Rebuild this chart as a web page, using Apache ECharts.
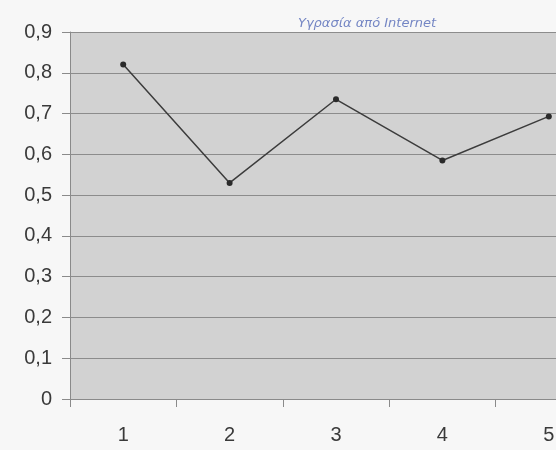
<!DOCTYPE html>
<html>
<head>
<meta charset="utf-8">
<script src="https://cdn.jsdelivr.net/npm/echarts@6/dist/echarts.min.js"></script>
<style>html,body{margin:0;padding:0;background:#f7f7f7;}#c{width:556px;height:450px;}</style>
</head>
<body>
<div id="c"></div>
<script>
const categories = ['1', '2', '3', '4', '5'];
const values = [0.82, 0.53, 0.735, 0.585, 0.693];
const titleText = 'Υγρασία από Internet';

const chart = echarts.init(document.getElementById('c'));
chart.setOption({
  backgroundColor: '#f7f7f7',
  animation: false,
  title: {
    text: titleText,
    left: 362, top: 12, textAlign: 'center',
    textStyle: { color: '#7486c4', fontSize: 13, fontWeight: 'normal', fontFamily: 'DejaVu Sans', fontStyle: 'italic' }
  },
  grid: { left: 70, top: 32, right: -46, bottom: 51, show: true, backgroundColor: '#d2d2d2', borderWidth: 0, containLabel: false, outerBoundsMode: 'none' },
  xAxis: {
    type: 'category', data: categories, boundaryGap: true,
    axisLine: { lineStyle: { color: '#8a8a8a', width: 1 } },
    axisTick: { show: true, length: 8, lineStyle: { color: '#8a8a8a' } },
    axisLabel: { color: '#3a3a3a', fontSize: 20, fontFamily: 'Liberation Sans', margin: 26 }
  },
  yAxis: {
    type: 'value', min: 0, max: 0.9, interval: 0.1,
    axisLine: { show: true, lineStyle: { color: '#8a8a8a', width: 1 } },
    axisTick: { show: true, length: 8, lineStyle: { color: '#8a8a8a' } },
    splitLine: { show: true, lineStyle: { color: '#8c8c8c', width: 1 } },
    axisLabel: {
      color: '#3a3a3a', fontSize: 20, fontFamily: 'Liberation Sans', margin: 18,
      formatter: v => (Math.round(v * 10) / 10).toString().replace('.', ',')
    }
  },
  series: [{
    type: 'line', data: values,
    symbol: 'circle', symbolSize: 6,
    itemStyle: { color: '#2a2a2a' },
    lineStyle: { color: '#3c3c3c', width: 1.5 }
  }]
});
</script>
</body>
</html>
